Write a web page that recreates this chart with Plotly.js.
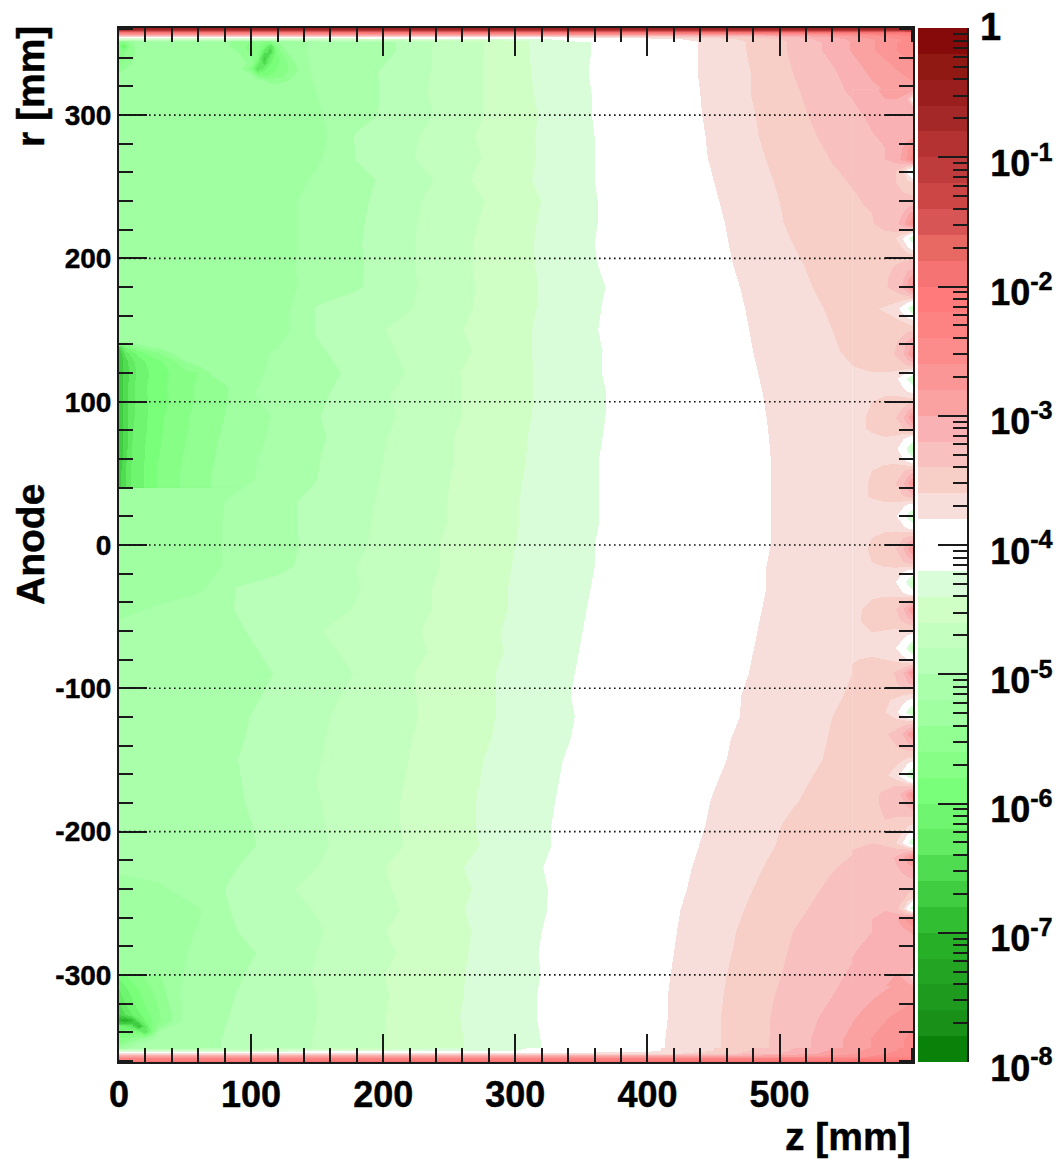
<!DOCTYPE html>
<html><head><meta charset="utf-8">
<script src="https://cdn.plot.ly/plotly-3.0.1.min.js"></script>
<style>html,body{margin:0;padding:0;background:#fff}#c{width:1060px;height:1160px}
.contourbg path{fill:none !important}
.contourfill path{shape-rendering:crispEdges}
svg text{stroke:#000;stroke-width:.45px}</style>
</head><body><div id="c"></div>
<script>
// log10(efficiency). Columns are z [mm], rows are r [mm].
const zCols = [0,30,60,90,120,150,180,210,240,270,300,330,360,390,420,450,480,510,540,570,601];
const rRows = [361,345,330,315,300,285,270,255,240,225,210,195,180,165,150,135,120,105,90,75,60,45,30,15,0,-15,-30,-45,-60,-75,-90,-105,-120,-135,-150,-165,-180,-195,-210,-225,-240,-255,-270,-285,-300,-315,-330,-345,-361];
const fieldLog = [
[-5.3,-5.3,-5.3,-5.3,-5.3,-5.17,-5.09,-5,-4.78,-4.64,-4.45,-4.31,-4.19,-4.04,-3.89,-3.74,-3.57,-3.37,-3.14,-2.83,-2.45],
[-5.3,-5.3,-5.3,-5.3,-5.3,-5.17,-5.09,-5,-4.78,-4.64,-4.45,-4.31,-4.19,-4.04,-3.89,-3.74,-3.57,-3.37,-3.14,-2.83,-2.45],
[-5.3,-5.3,-5.3,-5.3,-5.3,-5.18,-5.07,-4.94,-4.78,-4.63,-4.46,-4.31,-4.18,-4.03,-3.89,-3.74,-3.59,-3.4,-3.23,-2.96,-2.72],
[-5.3,-5.3,-5.3,-5.3,-5.3,-5.2,-5.08,-4.94,-4.76,-4.63,-4.47,-4.32,-4.19,-4.04,-3.9,-3.75,-3.59,-3.43,-3.28,-3.06,-2.9],
[-5.3,-5.3,-5.3,-5.3,-5.3,-5.22,-5.08,-4.93,-4.79,-4.63,-4.48,-4.34,-4.19,-4.05,-3.9,-3.76,-3.61,-3.45,-3.32,-3.19,-3],
[-5.3,-5.3,-5.3,-5.3,-5.3,-5.28,-4.98,-4.87,-4.75,-4.6,-4.47,-4.33,-4.2,-4.06,-3.92,-3.77,-3.62,-3.48,-3.35,-3.23,-3.12],
[-5.3,-5.3,-5.3,-5.3,-5.3,-5.23,-4.99,-4.86,-4.73,-4.62,-4.48,-4.33,-4.2,-4.06,-3.92,-3.78,-3.64,-3.51,-3.39,-3.27,-3.15],
[-5.3,-5.3,-5.3,-5.3,-5.3,-5.17,-5.06,-4.93,-4.79,-4.58,-4.45,-4.33,-4.2,-4.07,-3.94,-3.8,-3.66,-3.54,-3.43,-3.34,-3.25],
[-5.3,-5.3,-5.3,-5.3,-5.26,-5.14,-5.05,-4.89,-4.75,-4.63,-4.49,-4.35,-4.21,-4.08,-3.95,-3.82,-3.68,-3.56,-3.46,-3.38,-3.3],
[-5.3,-5.3,-5.3,-5.3,-5.27,-5.13,-5.03,-4.88,-4.73,-4.61,-4.47,-4.34,-4.21,-4.08,-3.96,-3.84,-3.7,-3.57,-3.49,-3.4,-3.34],
[-5.3,-5.3,-5.3,-5.3,-5.27,-5.13,-5.02,-4.87,-4.72,-4.59,-4.46,-4.33,-4.2,-4.09,-3.97,-3.85,-3.72,-3.6,-3.51,-3.43,-3.36],
[-5.3,-5.3,-5.3,-5.3,-5.26,-5.13,-5.03,-4.87,-4.72,-4.59,-4.46,-4.34,-4.21,-4.09,-3.98,-3.86,-3.74,-3.62,-3.55,-3.49,-3.42],
[-5.3,-5.3,-5.3,-5.3,-5.27,-5.13,-5.02,-4.88,-4.73,-4.6,-4.47,-4.35,-4.23,-4.12,-4,-3.88,-3.76,-3.64,-3.56,-3.51,-3.46],
[-5.3,-5.3,-5.3,-5.3,-5.3,-4.98,-4.91,-4.84,-4.74,-4.59,-4.47,-4.34,-4.22,-4.1,-3.99,-3.88,-3.78,-3.67,-3.58,-3.53,-3.48],
[-5.3,-5.3,-5.3,-5.3,-5.3,-4.98,-4.88,-4.77,-4.67,-4.57,-4.45,-4.33,-4.21,-4.1,-4,-3.89,-3.79,-3.69,-3.6,-3.54,-3.5],
[-5.3,-5.3,-5.3,-5.3,-5.18,-5.03,-4.91,-4.8,-4.7,-4.59,-4.45,-4.33,-4.22,-4.12,-4.01,-3.91,-3.8,-3.7,-3.61,-3.56,-3.52],
[-5.3,-5.3,-5.3,-5.3,-5.15,-5.06,-4.96,-4.83,-4.68,-4.55,-4.45,-4.34,-4.22,-4.11,-4.01,-3.91,-3.81,-3.73,-3.64,-3.58,-3.54],
[-5.3,-5.3,-5.3,-5.25,-5.13,-5.04,-4.91,-4.78,-4.67,-4.56,-4.45,-4.34,-4.23,-4.13,-4.03,-3.92,-3.82,-3.74,-3.66,-3.59,-3.56],
[-5.3,-5.3,-5.3,-5.3,-5.18,-5.01,-4.9,-4.8,-4.68,-4.56,-4.45,-4.33,-4.23,-4.12,-4.02,-3.93,-3.83,-3.74,-3.68,-3.61,-3.58],
[-5.3,-5.3,-5.3,-5.3,-5.16,-5.03,-4.9,-4.77,-4.65,-4.54,-4.43,-4.33,-4.22,-4.12,-4.02,-3.93,-3.84,-3.74,-3.71,-3.66,-3.62],
[-5.3,-5.3,-5.3,-5.25,-5.15,-5.01,-4.88,-4.76,-4.65,-4.54,-4.43,-4.32,-4.21,-4.12,-4.02,-3.93,-3.84,-3.75,-3.72,-3.68,-3.64],
[-5.3,-5.3,-5.3,-5.25,-5.13,-5,-4.87,-4.75,-4.64,-4.53,-4.42,-4.31,-4.21,-4.12,-4.02,-3.93,-3.84,-3.75,-3.73,-3.69,-3.66],
[-5.3,-5.3,-5.3,-5.15,-5.05,-4.95,-4.85,-4.74,-4.63,-4.52,-4.41,-4.31,-4.21,-4.12,-4.02,-3.93,-3.84,-3.75,-3.73,-3.7,-3.67],
[-5.3,-5.3,-5.26,-5.16,-5.05,-4.95,-4.84,-4.73,-4.63,-4.52,-4.41,-4.31,-4.21,-4.12,-4.02,-3.93,-3.84,-3.75,-3.73,-3.7,-3.67],
[-5.3,-5.3,-5.26,-5.16,-5.06,-4.95,-4.83,-4.72,-4.61,-4.5,-4.4,-4.3,-4.2,-4.11,-4.02,-3.93,-3.84,-3.75,-3.73,-3.7,-3.67],
[-5.3,-5.3,-5.26,-5.16,-5.05,-4.93,-4.8,-4.71,-4.61,-4.5,-4.39,-4.3,-4.2,-4.09,-4,-3.92,-3.83,-3.74,-3.72,-3.69,-3.66],
[-5.3,-5.3,-5.25,-4.99,-4.93,-4.87,-4.81,-4.7,-4.59,-4.49,-4.38,-4.29,-4.19,-4.1,-4.01,-3.92,-3.83,-3.74,-3.72,-3.69,-3.66],
[-5.25,-5.17,-5.08,-4.99,-4.93,-4.86,-4.79,-4.69,-4.59,-4.49,-4.38,-4.28,-4.18,-4.09,-4,-3.91,-3.82,-3.73,-3.7,-3.66,-3.63],
[-5.15,-5.13,-5.08,-5.02,-4.92,-4.81,-4.73,-4.65,-4.57,-4.47,-4.36,-4.27,-4.17,-4.08,-3.99,-3.9,-3.81,-3.72,-3.66,-3.62,-3.6],
[-5.15,-5.13,-5.1,-5.06,-4.95,-4.85,-4.76,-4.67,-4.58,-4.47,-4.37,-4.26,-4.16,-4.07,-3.98,-3.89,-3.8,-3.73,-3.65,-3.58,-3.55],
[-5.15,-5.13,-5.11,-5.08,-4.99,-4.89,-4.79,-4.65,-4.54,-4.45,-4.35,-4.25,-4.15,-4.06,-3.97,-3.88,-3.79,-3.71,-3.64,-3.56,-3.52],
[-5.15,-5.13,-5.1,-5.06,-4.96,-4.86,-4.76,-4.65,-4.55,-4.45,-4.35,-4.24,-4.14,-4.05,-3.96,-3.87,-3.77,-3.7,-3.62,-3.55,-3.5],
[-5.15,-5.13,-5.09,-5.03,-4.93,-4.83,-4.74,-4.65,-4.56,-4.45,-4.35,-4.25,-4.15,-4.05,-3.96,-3.86,-3.77,-3.69,-3.6,-3.53,-3.48],
[-5.15,-5.13,-5.08,-5.02,-4.91,-4.82,-4.73,-4.64,-4.54,-4.44,-4.34,-4.24,-4.14,-4.04,-3.94,-3.84,-3.75,-3.67,-3.59,-3.52,-3.46],
[-5.15,-5.13,-5.07,-5,-4.9,-4.81,-4.71,-4.63,-4.53,-4.42,-4.32,-4.22,-4.12,-4.02,-3.93,-3.83,-3.74,-3.66,-3.58,-3.5,-3.44],
[-5.15,-5.13,-5.07,-5.01,-4.9,-4.8,-4.71,-4.62,-4.52,-4.41,-4.31,-4.21,-4.11,-4.01,-3.91,-3.81,-3.72,-3.63,-3.56,-3.48,-3.42],
[-5.15,-5.13,-5.08,-5.02,-4.91,-4.81,-4.71,-4.61,-4.5,-4.4,-4.3,-4.2,-4.1,-4,-3.9,-3.79,-3.7,-3.61,-3.53,-3.46,-3.4],
[-5.15,-5.13,-5.09,-5.04,-4.93,-4.82,-4.72,-4.61,-4.51,-4.4,-4.3,-4.19,-4.09,-3.98,-3.88,-3.78,-3.68,-3.57,-3.49,-3.43,-3.37],
[-5.15,-5.13,-5.09,-5.05,-4.94,-4.83,-4.73,-4.62,-4.51,-4.41,-4.3,-4.19,-4.08,-3.97,-3.87,-3.76,-3.65,-3.56,-3.47,-3.38,-3.32],
[-5.15,-5.13,-5.07,-5,-4.9,-4.8,-4.68,-4.57,-4.47,-4.37,-4.27,-4.17,-4.06,-3.96,-3.85,-3.74,-3.63,-3.51,-3.41,-3.33,-3.28],
[-5.3,-5.23,-5.1,-4.95,-4.84,-4.75,-4.67,-4.59,-4.49,-4.39,-4.29,-4.18,-4.07,-3.95,-3.84,-3.72,-3.6,-3.47,-3.37,-3.29,-3.23],
[-5.3,-5.3,-5.22,-4.95,-4.87,-4.79,-4.7,-4.61,-4.48,-4.37,-4.28,-4.18,-4.06,-3.94,-3.82,-3.7,-3.57,-3.44,-3.33,-3.26,-3.19],
[-5.3,-5.3,-5.19,-5,-4.91,-4.82,-4.69,-4.57,-4.48,-4.39,-4.28,-4.16,-4.05,-3.93,-3.81,-3.68,-3.54,-3.4,-3.32,-3.23,-3.12],
[-5.3,-5.28,-5.17,-5.06,-4.93,-4.8,-4.7,-4.6,-4.49,-4.38,-4.27,-4.15,-4.04,-3.92,-3.8,-3.67,-3.52,-3.38,-3.28,-3.16,-3.05],
[-5.3,-5.28,-5.15,-5.02,-4.9,-4.78,-4.67,-4.57,-4.48,-4.37,-4.27,-4.16,-4.03,-3.91,-3.79,-3.65,-3.5,-3.36,-3.24,-3.11,-2.98],
[-5.3,-5.27,-5.13,-4.99,-4.9,-4.8,-4.69,-4.58,-4.47,-4.37,-4.26,-4.15,-4.03,-3.91,-3.78,-3.64,-3.48,-3.33,-3.2,-3.02,-2.85],
[-5.3,-5.25,-5.1,-4.97,-4.88,-4.8,-4.68,-4.57,-4.46,-4.36,-4.26,-4.15,-4.03,-3.91,-3.78,-3.63,-3.47,-3.31,-3.14,-2.9,-2.65],
[-5.3,-5.25,-5.07,-4.95,-4.87,-4.79,-4.67,-4.57,-4.47,-4.37,-4.27,-4.16,-4.03,-3.91,-3.77,-3.63,-3.47,-3.3,-3.08,-2.79,-2.55],
[-5.3,-5.25,-5.07,-4.95,-4.87,-4.79,-4.67,-4.57,-4.47,-4.37,-4.27,-4.16,-4.03,-3.91,-3.77,-3.63,-3.47,-3.3,-3.08,-2.79,-2.55]
];

// Finer reading of the wire structure along the right edge.
const stripZ = [555,570,580,588,593,597,601];
const stripR = [318,311,304,295,285,277,269,261,253,245,237,231,224,219,214,207,200,193,186,180,173,165,157,149,141,133,125,116,108,100,89,81,74,67,60,52,43,34,27,20,13,5,-3,-12,-19,-26,-33,-38,-45,-53,-61,-72,-80,-89,-97,-108,-117,-124,-132,-140,-150,-161,-168,-174,-181,-192,-201,-208,-213,-218,-225,-235,-246,-254,-261,-270,-280,-292,-300,-308];
const stripLog = [
[-3.18,-3.04,-2.95,-2.9,-2.88,-2.86,-2.85],
[-3.2,-3.07,-3,-3,-3.05,-3.2,-3.9],
[-3.24,-3.12,-3.08,-3.06,-3.06,-3.06,-3.08],
[-3.27,-3.18,-3.14,-3.12,-3.1,-3.1,-3.1],
[-3.29,-3.21,-3.18,-3.15,-3.13,-3.1,-3.05],
[-3.31,-3.25,-3.2,-3.14,-3,-2.85,-2.6],
[-3.33,-3.26,-3.2,-3.1,-2.95,-2.75,-2.4],
[-3.36,-3.3,-3.3,-3.4,-3.55,-3.9,-4.5],
[-3.38,-3.34,-3.34,-3.4,-3.48,-3.55,-3.6],
[-3.41,-3.36,-3.35,-3.36,-3.38,-3.4,-3.42],
[-3.43,-3.38,-3.35,-3.33,-3.3,-3.25,-3.2],
[-3.44,-3.4,-3.36,-3.3,-3.2,-3.05,-2.9],
[-3.45,-3.41,-3.35,-3.25,-3.1,-2.85,-2.5],
[-3.46,-3.42,-3.4,-3.38,-3.4,-3.45,-3.5],
[-3.47,-3.44,-3.46,-3.6,-3.8,-4.15,-4.5],
[-3.48,-3.45,-3.45,-3.5,-3.6,-3.75,-3.9],
[-3.5,-3.47,-3.46,-3.44,-3.44,-3.44,-3.44],
[-3.52,-3.49,-3.44,-3.38,-3.32,-3.25,-3.2],
[-3.53,-3.49,-3.42,-3.34,-3.24,-3.05,-2.85],
[-3.53,-3.5,-3.42,-3.32,-3.18,-2.95,-2.6],
[-3.54,-3.53,-3.5,-3.48,-3.46,-3.44,-3.42],
[-3.55,-3.58,-3.62,-3.72,-3.9,-4.2,-4.6],
[-3.56,-3.57,-3.56,-3.58,-3.62,-3.7,-3.8],
[-3.57,-3.57,-3.54,-3.5,-3.46,-3.42,-3.38],
[-3.58,-3.55,-3.48,-3.42,-3.3,-3.15,-3],
[-3.59,-3.55,-3.47,-3.38,-3.25,-3,-2.7],
[-3.6,-3.58,-3.54,-3.5,-3.46,-3.4,-3.35],
[-3.61,-3.62,-3.66,-3.75,-3.92,-4.25,-4.6],
[-3.62,-3.62,-3.62,-3.66,-3.74,-3.85,-3.95],
[-3.63,-3.6,-3.58,-3.54,-3.5,-3.46,-3.42],
[-3.64,-3.58,-3.5,-3.4,-3.26,-3.02,-2.7],
[-3.65,-3.58,-3.52,-3.48,-3.42,-3.3,-3.2],
[-3.65,-3.63,-3.62,-3.66,-3.76,-3.92,-4.05],
[-3.66,-3.66,-3.68,-3.76,-3.92,-4.3,-4.7],
[-3.66,-3.66,-3.66,-3.68,-3.78,-3.95,-4.1],
[-3.67,-3.6,-3.54,-3.5,-3.44,-3.36,-3.3],
[-3.67,-3.58,-3.5,-3.4,-3.26,-3.02,-2.7],
[-3.67,-3.58,-3.52,-3.48,-3.42,-3.34,-3.25],
[-3.67,-3.66,-3.66,-3.68,-3.76,-3.9,-4],
[-3.67,-3.67,-3.7,-3.78,-3.92,-4.3,-4.7],
[-3.67,-3.66,-3.66,-3.68,-3.76,-3.9,-4],
[-3.67,-3.6,-3.54,-3.5,-3.42,-3.34,-3.25],
[-3.67,-3.58,-3.5,-3.4,-3.24,-3,-2.7],
[-3.67,-3.6,-3.54,-3.48,-3.42,-3.34,-3.26],
[-3.67,-3.66,-3.66,-3.7,-3.78,-3.92,-4],
[-3.67,-3.67,-3.7,-3.8,-3.95,-4.3,-4.7],
[-3.67,-3.66,-3.66,-3.7,-3.8,-3.95,-4.05],
[-3.66,-3.6,-3.56,-3.54,-3.5,-3.46,-3.42],
[-3.64,-3.56,-3.5,-3.4,-3.25,-3,-2.7],
[-3.63,-3.56,-3.52,-3.46,-3.38,-3.28,-3.2],
[-3.62,-3.6,-3.62,-3.66,-3.66,-3.7,-3.72],
[-3.63,-3.66,-3.72,-3.8,-3.95,-4.3,-4.7],
[-3.61,-3.58,-3.6,-3.64,-3.72,-3.8,-3.85],
[-3.58,-3.52,-3.46,-3.38,-3.24,-3,-2.7],
[-3.58,-3.52,-3.47,-3.42,-3.34,-3.24,-3.15],
[-3.57,-3.55,-3.58,-3.62,-3.7,-3.78,-3.85],
[-3.56,-3.56,-3.6,-3.74,-3.95,-4.3,-4.7],
[-3.54,-3.5,-3.5,-3.5,-3.48,-3.46,-3.44],
[-3.53,-3.47,-3.42,-3.34,-3.2,-2.98,-2.7],
[-3.52,-3.47,-3.44,-3.4,-3.34,-3.26,-3.2],
[-3.51,-3.48,-3.48,-3.52,-3.58,-3.65,-3.7],
[-3.5,-3.5,-3.56,-3.72,-3.9,-4.3,-4.7],
[-3.48,-3.44,-3.42,-3.4,-3.42,-3.44,-3.48],
[-3.47,-3.42,-3.38,-3.3,-3.15,-2.9,-2.6],
[-3.46,-3.42,-3.38,-3.32,-3.26,-3.15,-3.05],
[-3.44,-3.41,-3.4,-3.42,-3.44,-3.46,-3.48],
[-3.43,-3.4,-3.42,-3.5,-3.6,-3.75,-3.9],
[-3.42,-3.4,-3.44,-3.6,-3.8,-4.15,-4.6],
[-3.4,-3.36,-3.34,-3.34,-3.34,-3.32,-3.3],
[-3.39,-3.33,-3.26,-3.18,-3.04,-2.85,-2.5],
[-3.37,-3.31,-3.27,-3.22,-3.16,-3.08,-3],
[-3.35,-3.3,-3.28,-3.26,-3.26,-3.26,-3.26],
[-3.32,-3.27,-3.25,-3.28,-3.34,-3.44,-3.55],
[-3.3,-3.25,-3.22,-3.34,-3.55,-3.95,-4.5],
[-3.29,-3.2,-3.12,-3.02,-2.9,-2.72,-2.5],
[-3.26,-3.2,-3.15,-3.1,-3.06,-3.02,-2.98],
[-3.22,-3.17,-3.13,-3.1,-3.07,-3.06,-3.06],
[-3.19,-3.13,-3.09,-3.06,-3.04,-3.04,-3.04],
[-3.17,-3.1,-3.04,-3,-3.02,-3.2,-3.8],
[-3.17,-3.06,-3,-2.96,-2.93,-2.92,-2.91]
];

// Thin red edges at the top and bottom of the chamber.
const edgeZ = [0,100,200,300,350,400,450,500,550,601];
const topR = [351,353,354.5,356,357.5,359,361];
const topLog = [
[-5.3,-5.3,-5,-4.5,-4.2,-4,-3.75,-3.45,-3.05,-2.5],
[-4.5,-4.5,-4.4,-4.3,-4.1,-3.9,-3.7,-3.4,-3,-2.5],
[-3.7,-3.7,-3.7,-3.7,-3.7,-3.6,-3.5,-3.3,-2.9,-2.4],
[-2.9,-2.9,-2.9,-2.9,-2.9,-2.9,-2.9,-2.85,-2.7,-2.3],
[-2,-2,-2,-2,-2,-2,-2,-2,-2,-1.9],
[-1,-1,-1,-1,-1,-1,-1,-1,-1,-1],
[-0.4,-0.4,-0.4,-0.4,-0.4,-0.4,-0.4,-0.4,-0.4,-0.4]
];
const botR = [-361,-358.5,-357,-355,-353,-351];
const botLog = [
[-1.9,-1.9,-1.9,-1.9,-1.9,-1.9,-1.9,-1.9,-1.9,-1.9],
[-2.3,-2.3,-2.3,-2.3,-2.3,-2.3,-2.3,-2.3,-2.3,-2.2],
[-2.9,-2.9,-2.9,-2.9,-2.9,-2.9,-2.9,-2.85,-2.7,-2.4],
[-3.7,-3.7,-3.7,-3.7,-3.7,-3.7,-3.5,-3.2,-2.85,-2.45],
[-4.4,-4.4,-4.3,-4.2,-4,-3.85,-3.6,-3.25,-2.9,-2.5],
[-5.2,-4.93,-4.55,-4.25,-4,-3.85,-3.6,-3.27,-2.95,-2.5]
];

// Low-efficiency spots near the left edge and the upper wire.
const spotAz = [0,5,10,15,20,30,40,50,60,70,80,90];
const spotAr = [40,50,60,70,80,90,100,110,120,128,134,138,142];
const spotAlog = [
[-6.7,-6.4,-6.15,-6.05,-5.98,-5.78,-5.66,-5.56,-5.47,-5.4,-5.33,-5.3],
[-6.7,-6.4,-6.15,-6.05,-5.98,-5.78,-5.66,-5.56,-5.47,-5.4,-5.33,-5.3],
[-6.8,-6.45,-6.18,-6.08,-5.99,-5.8,-5.68,-5.58,-5.49,-5.42,-5.35,-5.3],
[-6.8,-6.5,-6.2,-6.1,-6,-5.82,-5.7,-5.6,-5.5,-5.43,-5.36,-5.3],
[-6.8,-6.5,-6.22,-6.11,-6.02,-5.84,-5.72,-5.62,-5.53,-5.45,-5.38,-5.32],
[-6.8,-6.5,-6.25,-6.12,-6.03,-5.85,-5.74,-5.63,-5.55,-5.47,-5.4,-5.33],
[-6.8,-6.5,-6.25,-6.12,-6.03,-5.87,-5.78,-5.67,-5.57,-5.49,-5.42,-5.33],
[-6.8,-6.5,-6.25,-6.12,-6.02,-5.86,-5.76,-5.66,-5.57,-5.49,-5.43,-5.3],
[-6.8,-6.5,-6.3,-6.15,-6.05,-5.88,-5.78,-5.66,-5.6,-5.38,-5.3,-5.3],
[-6.8,-6.5,-6.25,-6.1,-6,-5.85,-5.68,-5.4,-5.3,-5.3,-5.3,-5.3],
[-6.8,-6.3,-6.1,-5.9,-5.8,-5.6,-5.4,-5.3,-5.3,-5.3,-5.3,-5.3],
[-6.6,-6,-5.7,-5.5,-5.42,-5.35,-5.3,-5.3,-5.3,-5.3,-5.3,-5.3],
[-5.3,-5.3,-5.3,-5.3,-5.3,-5.3,-5.3,-5.3,-5.3,-5.3,-5.3,-5.3]
];
const spotBz = [0,5,10,15,20,25,30,40,50,60];
const spotBr = [-352,-348,-344,-340,-336,-332,-328,-320,-310,-300];
const spotBlog = [
[-5.3,-5.2,-5.1,-5.05,-5.05,-5.05,-5.05,-5.05,-5.05,-5.07],
[-5.6,-5.45,-5.3,-5.15,-5.08,-5,-5,-5,-5.03,-5.07],
[-5.8,-5.8,-5.6,-5.5,-5.45,-5.3,-5.1,-5,-5.03,-5.07],
[-6,-5.9,-5.85,-5.9,-6.4,-5.8,-5.2,-5.05,-5.05,-5.08],
[-6.2,-6.2,-6.3,-6.9,-6.3,-5.8,-5.5,-5.2,-5.1,-5.09],
[-7,-7.1,-6.9,-6.3,-6,-5.8,-5.65,-5.4,-5.15,-5.1],
[-6.6,-6.4,-6.2,-6.05,-5.9,-5.75,-5.62,-5.4,-5.15,-5.1],
[-6.4,-6.2,-6.05,-5.9,-5.78,-5.68,-5.58,-5.35,-5.15,-5.12],
[-6.2,-6.05,-5.9,-5.8,-5.7,-5.6,-5.5,-5.3,-5.15,-5.12],
[-5.9,-5.8,-5.7,-5.62,-5.56,-5.5,-5.42,-5.28,-5.19,-5.14]
];
const spotCz = [80,90,100,105,110,115,120,125,130,135,140];
const spotCr = [320,324,328,332,336,340,344,348,352];
const spotClog = [
[-5.3,-5.3,-5.3,-5.3,-5.3,-5.3,-5.3,-5.3,-5.28,-5.25,-5.22],
[-5.3,-5.3,-5.3,-5.3,-5.4,-5.5,-5.5,-5.45,-5.35,-5.28,-5.22],
[-5.3,-5.3,-5.3,-5.8,-5.9,-5.8,-5.7,-5.62,-5.5,-5.35,-5.22],
[-5.3,-5.3,-5.7,-6.4,-6.05,-5.9,-5.8,-5.68,-5.55,-5.42,-5.25],
[-5.3,-5.3,-5.45,-6.1,-6.5,-6,-5.85,-5.68,-5.52,-5.34,-5.22],
[-5.3,-5.32,-5.55,-5.8,-6.7,-6.1,-5.85,-5.62,-5.42,-5.28,-5.22],
[-5.3,-5.4,-5.65,-5.7,-6.3,-6.5,-5.75,-5.5,-5.3,-5.25,-5.22],
[-5.3,-5.55,-5.65,-5.65,-5.9,-6.4,-5.6,-5.35,-5.28,-5.25,-5.22],
[-5.3,-5.5,-5.6,-5.55,-5.6,-5.5,-5.35,-5.3,-5.28,-5.25,-5.22]
];
const spotDz = [0,4,8,12,16];
const spotDr = [328,333,338,343,348,352];
const spotDlog = [
[-5.3,-5.3,-5.3,-5.3,-5.3],
[-5.55,-5.45,-5.35,-5.3,-5.3],
[-5.7,-5.6,-5.5,-5.32,-5.3],
[-5.7,-5.6,-5.55,-5.4,-5.3],
[-5.8,-6.2,-5.6,-5.4,-5.3],
[-5.5,-5.5,-5.4,-5.35,-5.3]
];

// Colour of each 0.2-decade band, from 1e-8 up to 1.
const bandColors = ['rgb(10,130,10)','rgb(25,145,25)','rgb(30,155,30)','rgb(35,165,35)','rgb(40,175,40)','rgb(50,190,50)','rgb(65,205,65)','rgb(80,220,80)','rgb(100,235,100)','rgb(112,245,112)',
'rgb(122,255,122)','rgb(135,255,135)','rgb(145,255,145)','rgb(160,255,160)','rgb(170,255,170)','rgb(185,255,185)','rgb(195,255,190)','rgb(208,255,198)','rgb(216,253,216)','rgb(255,255,255)',
'rgb(255,255,255)','rgb(247,222,218)','rgb(248,207,198)','rgb(248,192,190)','rgb(250,177,180)','rgb(250,162,162)','rgb(250,150,150)','rgb(252,140,140)','rgb(253,130,130)','rgb(255,122,122)',
'rgb(245,115,115)','rgb(232,105,100)','rgb(215,85,85)','rgb(205,70,70)','rgb(190,60,60)','rgb(180,50,50)','rgb(165,40,40)','rgb(155,30,30)','rgb(145,25,20)','rgb(135,10,10)'];
const barDecades = [-8,-7,-6,-5,-4,-3,-2,-1,0];
const barLabels = ['10<sup>-8</sup>','10<sup>-7</sup>','10<sup>-6</sup>','10<sup>-5</sup>','10<sup>-4</sup>','10<sup>-3</sup>','10<sup>-2</sup>','10<sup>-1</sup>',' '];
const gridR = [-300,-200,-100,0,100,200,300];
const rTicks = ['-300','-200','-100','0','100','200','300'];
const zTickVals = [0,100,200,300,400,500];
const zTicks = ['0','100','200','300','400','500'];

const colorscale = [];
bandColors.forEach((c,i)=>{colorscale.push([i/bandColors.length,c],[(i+1)/bandColors.length,c]);});
const W=1060,H=1160,ink='#1a1a1a';
const font={family:'Liberation Sans, Arial, sans-serif',color:'#000',weight:'bold'};
function band(x,y,z){return {type:'contour',x,y,z,xaxis:'x',yaxis:'y',colorscale,zmin:-8,zmax:0,zauto:false,showscale:false,
  autocontour:false,contours:{start:-8,end:0,size:0.2,coloring:'fill',showlines:false},line:{width:0,smoothing:0},hoverinfo:'skip'};}
const traces=[band(zCols,rRows,fieldLog),band(stripZ,stripR,stripLog),band(edgeZ,topR,topLog),band(edgeZ,botR,botLog),
  band(spotAz,spotAr,spotAlog),band(spotBz,spotBr,spotBlog),band(spotCz,spotCr,spotClog),band(spotDz,spotDr,spotDlog)];

const barEdges=bandColors.map((c,i)=>Math.pow(10,-8+0.2*i)).concat([1]);
traces.push({type:'heatmap',x:[0,1],y:barEdges,z:bandColors.map((c,i)=>[-7.9+0.2*i]),xaxis:'x2',yaxis:'y2',colorscale,zmin:-8,zmax:0,zauto:false,showscale:false,hoverinfo:'skip'});

const minorBar=[];
barDecades.slice(0,-1).forEach(d=>{[2,3,4,5,6,7,8,9].forEach(m=>minorBar.push(m*Math.pow(10,d)));});

const layout={width:W,height:H,margin:{l:0,r:0,t:0,b:0},paper_bgcolor:'#fff',plot_bgcolor:'#fff',showlegend:false,
 xaxis:{domain:[119/W,913/W],anchor:'y',range:[0,601],tickmode:'array',tickvals:zTickVals,ticktext:zTicks,ticks:'inside',ticklen:28,tickwidth:2,tickcolor:ink,
   minor:{tick0:0,dtick:20,ticks:'inside',ticklen:14,tickwidth:2,tickcolor:ink},showline:true,linewidth:2,linecolor:ink,mirror:'ticks',
   showgrid:false,zeroline:false,tickfont:{...font,size:36},ticklabelstandoff:0},
 yaxis:{domain:[(H-1062)/H,(H-28)/H],anchor:'x',range:[-360.8,360.8],tickmode:'array',tickvals:gridR,ticktext:rTicks,ticks:'inside',ticklen:28,tickwidth:2,tickcolor:ink,
   minor:{tick0:0,dtick:20,ticks:'inside',ticklen:14,tickwidth:2,tickcolor:ink},showline:true,linewidth:2,linecolor:ink,mirror:'ticks',
   showgrid:false,zeroline:false,tickfont:{...font,size:28},tickangle:0},
 xaxis2:{domain:[918/W,967/W],anchor:'y2',range:[0,1],visible:false,fixedrange:true},
 yaxis2:{domain:[(H-1062)/H,(H-28)/H],anchor:'x2',side:'right',type:'log',range:[-8,0],tickmode:'array',
   tickvals:barDecades.map(d=>Math.pow(10,d)),ticktext:barLabels,ticks:'inside',ticklen:29,tickwidth:2,tickcolor:ink,
   minor:{tickmode:'array',tickvals:minorBar,ticks:'inside',ticklen:14,tickwidth:2,tickcolor:ink},
   showline:true,linewidth:2,linecolor:ink,showgrid:false,zeroline:false,tickfont:{...font,size:36},ticklabelstandoff:14,ticklabelshift:6},
 shapes:gridR.map(r=>({type:'line',xref:'x',yref:'y',x0:0,x1:601,y0:r,y1:r,layer:'above',line:{color:'#111',width:1.6,dash:'1.6px,3.4px'}})),
 annotations:[
  {text:'z [mm]',xref:'paper',yref:'paper',x:913/W,y:(H-1136)/H,xanchor:'right',yanchor:'middle',showarrow:false,font:{...font,size:39}},
  {text:'r [mm]',xref:'paper',yref:'paper',x:31/W,y:(H-87)/H,xanchor:'center',yanchor:'middle',textangle:-90,showarrow:false,font:{...font,size:39}},
  {text:'Anode',xref:'paper',yref:'paper',x:30/W,y:(H-545)/H,xanchor:'center',yanchor:'middle',textangle:-90,showarrow:false,font:{...font,size:39}},
  {text:'1',xref:'paper',yref:'paper',x:990/W,y:(H-27)/H,xanchor:'center',yanchor:'middle',showarrow:false,font:{...font,size:38}}
 ]};
Plotly.newPlot('c',traces,layout,{displayModeBar:false,staticPlot:true});
</script></body></html>
